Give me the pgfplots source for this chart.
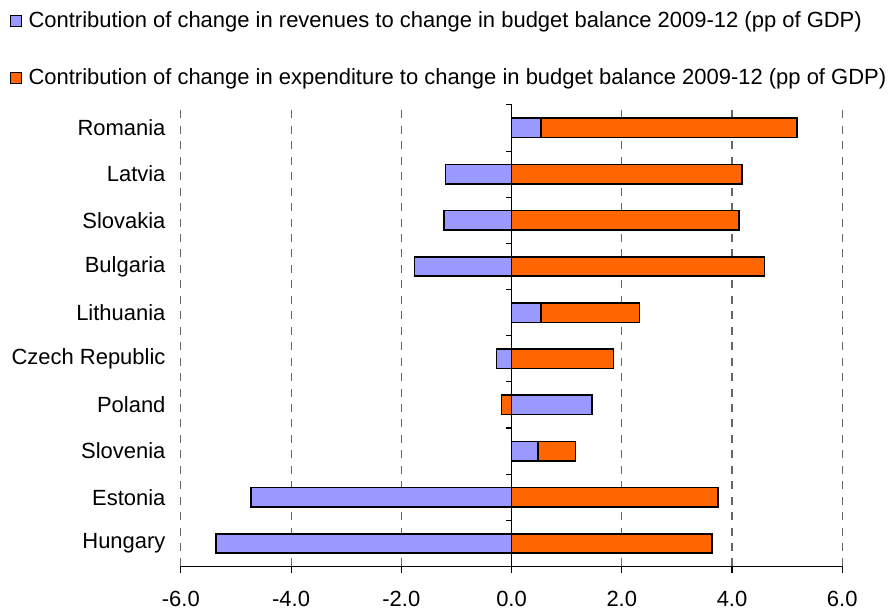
\documentclass[border=0pt]{standalone}
\usepackage{pgfplots}
\pgfplotsset{compat=1.18}
\usepackage{pgfplotstable}
\usepackage{fontspec}
\setmainfont{Liberation Sans}

\definecolor{revcol}{HTML}{9999FF}
\definecolor{expcol}{HTML}{FF6600}

% pos: 9 = top (Romania); rev = revenue bar, expend = far end of the orange bar
\pgfplotstableread{
pos rev expend
9 0.53 5.18
8 -1.20 4.18
7 -1.23 4.13
6 -1.76 4.59
5 0.53 2.32
4 -0.27 1.85
3 1.46 -0.18
2 0.48 1.16
1 -4.73 3.75
0 -5.36 3.64
}\budget

\pgfplotsset{
  sqlegend/.style={legend image code/.code={
      \draw[##1,line width=0.7pt] (0pt,-4pt) rectangle (8pt,4pt);
      \path (11pt,0pt);}},
}

\begin{document}
\begin{tikzpicture}[x=0.75pt,y=0.75pt]
\begin{axis}[
  at={(0,0)}, anchor=south west,
  scale only axis, width=496.5pt, height=346.5pt,
  xmin=-6, xmax=6, ymin=-0.5, ymax=9.5,
  xbar, bar width=0.42, bar shift=0pt,
  axis x line*=bottom, axis y line*=left,
  y axis line style={draw=none},
  x axis line style={line width=0.8pt,-},
  xtick={-6,-4,...,6},
  tick align=outside,
  xtick style={line width=0.8pt, black},
  major tick length=5pt,
  ytick={0,...,9},
  yticklabels={Hungary,Estonia,Slovenia,Poland,Czech Republic,Lithuania,Bulgaria,Slovakia,Latvia,Romania},
  ytick style={draw=none},
  yticklabel style={xshift=-3pt},
  xticklabel style={yshift=-10pt},
  xmajorgrids,
  major grid style={line width=0.8pt, color=black!60, dash pattern=on 6pt off 5.6pt},
  tick label style={font=\fontsize{16.5}{19}\selectfont},
  /pgf/number format/assume math mode=true,
  xticklabel={\pgfmathprintnumber[fixed,fixed zerofill,precision=1]{\tick}},
  legend style={at={(-0.258,1.208)}, anchor=north west, draw=none, fill=none,
    font=\fontsize{16.5}{19}\selectfont, row sep=25.5pt, inner sep=0pt},
  legend cell align=left,
  clip=false,
]
\addlegendimage{sqlegend, fill=revcol, draw=black}
\addlegendentry{Contribution of change in revenues to change in budget balance 2009-12 (pp of GDP)}
\addlegendimage{sqlegend, fill=expcol, draw=black}
\addlegendentry{Contribution of change in expenditure to change in budget balance 2009-12 (pp of GDP)}

\addplot[forget plot, fill=expcol, draw=black, line width=1.2pt] table[x=expend, y=pos] {\budget};
\addplot[forget plot, fill=revcol, draw=black, line width=1.2pt] table[x=rev, y=pos] {\budget};

\draw[black, line width=0.8pt] (axis cs:0,-0.5) -- (axis cs:0,9.5);
\pgfplotsinvokeforeach{0,...,10}{
  \draw[black, line width=0.8pt] (axis cs:0,{#1-0.5}) -- ++(-4.5pt,0pt);
}
\end{axis}
\path (-181,-43) rectangle (708,567);
\end{tikzpicture}
\end{document}
